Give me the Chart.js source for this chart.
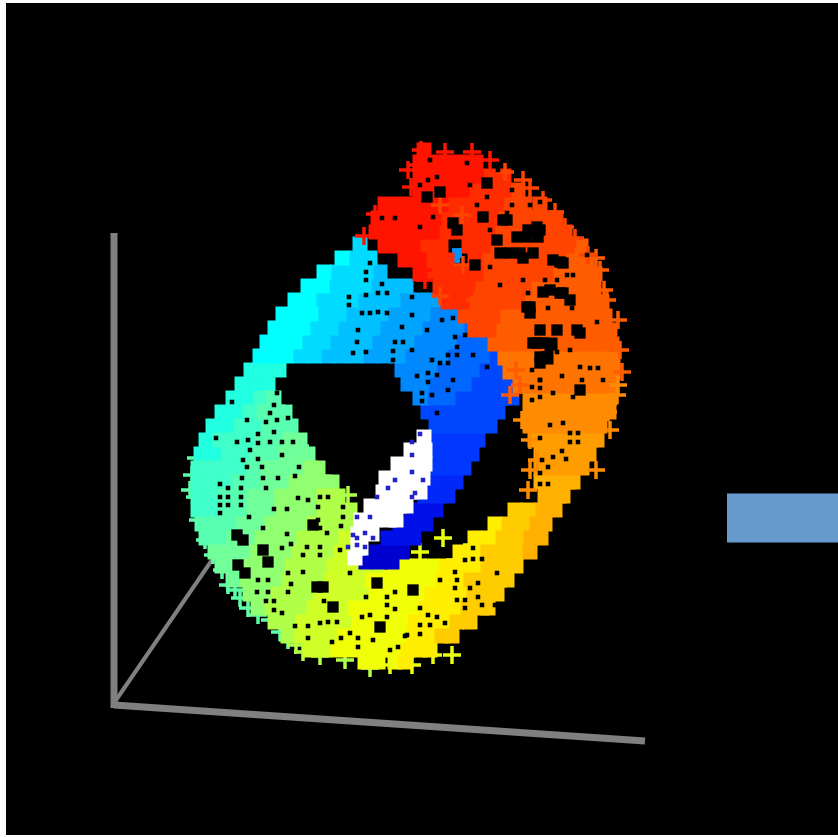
<!DOCTYPE html>
<html>
<head>
<meta charset="utf-8">
<script src="https://cdn.jsdelivr.net/npm/chart.js@4"></script>
<style>
  html, body { margin: 0; background: #fff; overflow: hidden; }
  #wrap { position: absolute; left: 6px; top: 3px; width: 832px; height: 832px; background: #000; }
</style>
</head>
<body>
<div id="wrap"><canvas id="roll"></canvas></div>
<script>
// axes of the 3d box and the blue arrow stub, in picture units
const axisUp = [[114,233],[114,708]];
const axisDepth = [[114,703],[212,560]];
const axisRight = [[114,705],[645,741]];
const arrowStub = [[727,518],[838,518]];

// outer face, red round to cyan
const red = [[424,150],[420,162],[434,162],[448,162],[462,162],[476,162],[420,176],[434,176],[448,176],[462,176],[476,176],[420,190],[434,190],[448,190],[462,190],[385,204],[399,204],[413,204],[427,204],[441,204],[378,218],[392,218],[406,218],[420,218],[434,218],[376,232],[390,232],[404,232],[418,232],[432,232],[385,246],[399,246],[413,246],[405,260],[419,260],[420,274]];
const redOrange = [[490,176],[504,176],[476,190],[490,190],[504,190],[455,204],[469,204],[483,204],[497,204],[448,218],[462,218],[476,218],[490,218],[446,232],[460,232],[474,232],[488,232],[427,246],[441,246],[469,246],[483,246],[433,260],[447,260],[475,260],[434,274],[448,274],[462,274],[476,274],[440,288],[454,288],[468,288],[448,302],[462,302]];
const orangeRed = [[518,190],[511,204],[525,204],[540,204],[504,218],[518,218],[532,218],[546,218],[556,218],[502,232],[516,232],[530,232],[544,232],[558,232],[565,232],[497,246],[511,246],[525,246],[539,246],[553,246],[567,246],[489,260],[503,260],[517,260],[531,260],[545,260],[559,260],[490,274],[504,274],[518,274],[532,274],[546,274],[482,288],[496,288],[510,288],[524,288],[476,302],[490,302],[504,302],[518,302],[465,316],[479,316],[493,316],[475,330],[489,330]];
const orange1 = [[581,246],[573,260],[587,260],[560,274],[574,274],[588,274],[595,274],[538,288],[552,288],[566,288],[580,288],[594,288],[532,302],[546,302],[560,302],[574,302],[588,302],[602,302],[507,316],[521,316],[535,316],[549,316],[563,316],[577,316],[591,316],[605,316],[503,330],[517,330],[531,330],[545,330],[559,330],[573,330],[587,330],[601,330],[610,330],[495,344],[509,344],[523,344],[537,344],[565,344],[579,344],[593,344],[607,344],[612,344]];
const orange2 = [[505,358],[519,358],[533,358],[561,358],[575,358],[589,358],[603,358],[613,358],[510,372],[524,372],[538,372],[552,372],[566,372],[580,372],[594,372],[608,372],[613,372],[520,386],[534,386],[548,386],[562,386],[576,386],[590,386],[604,386],[611,386]];
const orange3 = [[530,398],[544,398],[558,398],[572,398],[586,398],[600,398],[610,398],[530,412],[544,412],[558,412],[572,412],[586,412],[600,412],[609,412],[530,426],[544,426],[558,426],[572,426],[586,426],[600,426]];
const orange4 = [[535,440],[549,440],[563,440],[577,440],[591,440],[597,440],[541,454],[555,454],[569,454],[583,454],[589,454],[541,468],[555,468],[569,468],[582,468]];
const amber = [[541,482],[555,482],[568,482],[573,482],[545,496],[559,496],[563,496],[543,510],[555,510],[531,538],[541,538],[537,524],[545,524],[530,552]];
const gold = [[515,510],[529,510],[509,524],[523,524],[503,538],[517,538],[488,552],[502,552],[516,552],[488,566],[502,566],[516,566],[471,580],[485,580],[499,580],[507,580],[474,594],[488,594],[497,594],[468,608],[482,608],[488,608],[457,622],[470,622],[442,636],[452,636]];
const yellow = [[495,524],[475,538],[489,538],[460,552],[474,552],[446,566],[460,566],[474,566],[443,580],[457,580],[432,594],[446,594],[460,594],[426,608],[440,608],[454,608],[415,622],[429,622],[443,622],[414,636],[428,636],[408,650],[420,650],[430,650],[405,662]];
const yellowGreen = [[390,566],[404,566],[418,566],[432,566],[373,580],[387,580],[401,580],[415,580],[429,580],[376,594],[390,594],[404,594],[418,594],[356,608],[370,608],[384,608],[398,608],[412,608],[359,622],[373,622],[387,622],[401,622],[344,636],[358,636],[372,636],[386,636],[400,636],[338,650],[352,650],[366,650],[380,650],[394,650],[365,662],[378,662],[395,662]];
const lime = [[346,538],[341,552],[352,552],[334,566],[348,566],[362,566],[376,566],[331,580],[345,580],[359,580],[320,594],[334,594],[348,594],[362,594],[314,608],[328,608],[342,608],[303,622],[317,622],[331,622],[345,622],[302,636],[316,636],[330,636],[310,650],[324,650]];
const grassGreen = [[324,496],[338,496],[324,510],[338,510],[350,510],[314,524],[328,524],[342,524],[350,524],[304,538],[318,538],[332,538],[299,552],[313,552],[327,552],[292,566],[306,566],[320,566],[289,580],[303,580],[317,580],[278,594],[292,594],[306,594],[272,608],[286,608],[300,608],[275,622],[289,622],[288,636]];
const green1 = [[310,468],[318,468],[296,482],[310,482],[324,482],[332,482],[282,496],[296,496],[310,496],[282,510],[296,510],[310,510],[272,524],[286,524],[300,524],[262,538],[276,538],[290,538],[257,552],[271,552],[285,552],[250,566],[264,566],[278,566],[247,580],[261,580],[275,580],[250,594],[264,594],[258,608]];
const green2 = [[290,440],[300,440],[285,454],[299,454],[308,454],[268,468],[282,468],[296,468],[268,482],[282,482],[254,496],[268,496],[254,510],[268,510],[244,524],[258,524],[234,538],[248,538],[215,552],[229,552],[243,552],[222,566],[236,566],[233,580]];
const green3 = [[264,412],[278,412],[285,412],[274,398],[269,426],[283,426],[291,426],[262,440],[276,440],[257,454],[271,454],[254,468],[240,482],[254,482],[226,496],[240,496],[226,510],[240,510],[202,524],[216,524],[230,524],[206,538],[220,538]];
const aqua = [[250,412],[261,398],[241,426],[255,426],[220,440],[234,440],[248,440],[229,454],[243,454],[198,468],[212,468],[226,468],[240,468],[198,482],[212,482],[226,482],[198,496],[212,496],[198,510],[212,510]];
const teal = [[251,370],[265,370],[279,370],[242,384],[256,384],[268,384],[233,398],[247,398],[222,412],[236,412],[213,426],[227,426],[206,440],[201,454],[215,454]];

// inner face, cyan round to navy, and the white end
const cyan = [[342,258],[324,272],[308,286],[322,286],[295,300],[309,300],[283,314],[297,314],[311,314],[275,328],[289,328],[303,328],[267,342],[281,342],[295,342],[260,356],[274,356],[286,356]];
const blue1 = [[360,244],[356,258],[370,258],[338,272],[352,272],[366,272],[336,286],[350,286],[364,286],[323,300],[337,300],[351,300],[325,314],[339,314],[317,328],[331,328],[309,342],[323,342],[300,356],[314,356]];
const blue2 = [[380,272],[378,286],[392,286],[406,286],[365,300],[379,300],[393,300],[353,314],[367,314],[381,314],[345,328],[359,328],[373,328],[337,342],[351,342],[365,342],[328,356],[342,356],[356,356]];
const blue3 = [[407,300],[421,300],[435,300],[395,314],[409,314],[423,314],[387,328],[401,328],[415,328],[379,342],[393,342],[407,342],[370,356],[384,356],[398,356]];
const blue4 = [[437,314],[451,314],[429,328],[443,328],[457,328],[421,342],[435,342],[449,342],[412,356],[426,356],[440,356],[402,370],[416,370],[430,370],[408,384],[422,384],[420,398]];
const blue5 = [[471,328],[463,342],[477,342],[491,342],[454,356],[468,356],[482,356],[444,370],[458,370],[472,370],[436,384],[450,384],[464,384],[434,398],[448,398]];
const blue6 = [[505,342],[496,356],[510,356],[486,370],[500,370],[512,370],[478,384],[492,384],[506,384],[462,398],[476,398],[490,398],[504,398],[512,398],[428,412],[442,412],[456,412],[470,412],[484,412],[498,412],[436,426],[450,426],[464,426],[478,426],[490,426]];
const blue7 = [[436,440],[450,440],[464,440],[478,440],[436,454],[450,454],[464,454],[472,454],[428,468],[442,468],[456,468],[464,468]];
const blue8 = [[428,482],[436,482],[448,482],[456,482],[425,496],[438,496],[448,496]];
const navy1 = [[412,510],[425,510],[436,510],[400,524],[414,524],[426,524],[388,538],[402,538],[414,538]];
const navy2 = [[376,552],[390,552],[402,552],[366,562],[380,562],[392,562]];
const whiteEnd = [[424,437],[411,450],[425,450],[398,464],[412,464],[425,464],[386,478],[400,478],[414,478],[423,478],[383,492],[397,492],[411,492],[420,492],[371,506],[385,506],[399,506],[406,506],[361,520],[375,520],[389,520],[396,520],[358,534],[372,534],[358,548],[361,548],[355,558]];

// loose crosses that break the outline
const plusRed = [[421,150],[416,165],[445,152],[472,152],[411,187],[375,214],[396,207],[364,236],[424,185],[388,225],[425,280],[423,270],[490,160],[408,170]];
const plusOrangeRed = [[523,180],[543,200],[565,227],[588,255],[462,215],[440,205],[463,265],[440,296],[475,300],[505,172],[530,188],[555,212],[575,238]];
const plusOrange = [[610,325],[620,350],[604,290],[516,370],[520,385],[510,395],[607,300],[618,320],[622,372],[600,270],[596,258]];
const plusAmber = [[617,395],[610,430],[596,470],[618,385],[608,412],[522,420],[530,440],[537,460],[530,470],[528,490]];
const plusYellow = [[443,538],[420,552],[430,575],[455,560],[472,545],[452,655],[433,655],[412,665],[390,665]];
const plusLime = [[323,478],[348,495],[353,523],[370,668],[345,660],[320,656],[303,652],[296,645],[312,470]];
const plusGreen = [[300,446],[196,458],[192,475],[195,497],[198,520],[205,540],[213,555],[222,570],[235,590],[248,608],[270,620],[288,640],[210,530],[228,585],[240,598],[258,615],[280,632],[190,490]];

// blue showing through the red part
const blueThrough = [[457,253],[455,258],[483,290],[490,297],[477,312],[510,323],[392,232],[417,248],[425,245]];

// black holes in the cloud, large and small
const gapsLarge = [[453,223],[457,230],[528,230],[510,253],[523,258],[540,230],[530,307],[537,343],[543,343],[540,357],[560,293],[557,330],[580,333],[507,220],[487,183],[427,197],[440,192],[543,292],[520,253],[560,262],[517,237],[538,237],[500,253],[475,265],[313,525],[237,535],[243,540],[263,550],[268,562],[238,565],[245,573],[317,587],[323,587],[333,607],[380,627],[377,583],[413,590],[580,390],
  [533,253],[553,260],[563,263],[537,227],[527,237],[497,240],[483,217],[503,220],[550,290],[563,293],[570,300],[527,307],[530,313],[540,330],[577,330],[533,343],[547,357],[540,363]];
const gapsSmall = [[430,160],[467,163],[428,180],[437,177],[420,185],[470,185],[487,197],[477,205],[498,170],[512,190],[540,202],[512,205],[530,205],[382,218],[395,218],[482,215],[507,213],[420,227],[433,217],[490,230],[498,238],[475,267],[490,267],[500,285],[523,280],[545,280],[557,280],[567,275],[573,275],[528,293],[587,255],[548,308],[597,322],[572,308],[557,352],[570,350],[580,367],[590,368],[598,368],[532,370],[540,380],[603,380],
  [370,263],[366,272],[366,280],[382,284],[366,295],[378,293],[387,293],[412,297],[349,297],[349,305],[362,313],[370,313],[378,312],[387,313],[412,315],[442,320],[453,318],[402,327],[427,330],[358,330],[455,337],[465,335],[395,342],[403,342],[357,342],[412,350],[393,351],[353,353],[366,352],[457,347],[457,355],[448,355],[393,360],[432,360],[440,363],[448,363],[473,355],[428,373],[487,367],[417,376],[437,375],[453,380],[428,382],[437,413],[422,393],[422,401],[432,395],[448,390],
  [232,402],[277,393],[288,402],[274,405],[270,413],[247,420],[266,422],[277,420],[288,418],[216,438],[258,434],[274,432],[237,442],[248,440],[258,443],[270,442],[282,442],[293,442],[250,450],[282,455],[243,460],[258,459],[247,467],[262,467],[299,467],[278,478],[295,476],[242,478],[263,478],
  [220,484],[228,488],[241,488],[220,497],[228,497],[241,497],[220,505],[228,505],[241,505],[220,513],[274,509],[287,509],[249,517],[266,488],[298,498],[308,500],[320,497],[328,497],[318,507],[343,507],[343,517],[318,520],[320,528],[327,533],[263,528],[287,534],[282,548],[291,544],[307,547],[320,547],[303,555],[320,555],[340,550],[341,526],[350,573],[288,573],[303,572],[258,580],[268,580],[291,584],[257,592],[268,592],[288,592],[266,601],[274,601],[274,610],[282,613],[324,601],[295,626],[308,626],[320,623],[328,622],[337,622],[308,638],[332,642],[341,638],[350,633],[358,638],[358,647],[373,640],[362,617],[370,615],[366,597],[387,597],[395,592],[387,605],[395,609],[387,617],[420,608],[428,615],[437,617],[420,625],[430,625],[420,634],[407,635],[398,647],[390,650],
  [440,580],[455,572],[457,580],[455,588],[473,548],[465,560],[473,559],[482,559],[497,573],[478,583],[470,588],[478,597],[457,600],[465,600],[465,608],[482,605],[495,605],[445,623],[405,636],
  [540,380],[532,387],[540,388],[553,393],[540,397],[532,400],[562,376],[582,380],[573,397],[550,425],[563,423],[570,433],[578,433],[570,442],[578,442],[540,438],[562,451],[553,457],[542,460],[566,459],[548,467],[540,473],[540,484],[548,484]];

// specks in the white end
const whiteSpecks = [[420,434],[412,442],[412,455],[412,472],[395,480],[423,480],[388,488],[415,493],[412,497],[377,497],[370,517],[357,517],[365,533],[373,538],[353,535],[357,538],[348,547],[365,547],[357,545]];

const toXY = pts => pts.map(p => ({ x: p[0], y: p[1] }));

function solid(pts, colour) {
  return { type: 'scatter', data: toXY(pts), pointStyle: 'rect', pointRadius: 10.6, pointBorderWidth: 0, pointBackgroundColor: colour };
}
function plus(pts, colour) {
  return { type: 'scatter', data: toXY(pts), pointStyle: 'cross', pointRadius: 9, pointBorderWidth: 3.5, pointBorderColor: colour };
}
function speck(pts, colour, r) {
  return { type: 'scatter', data: toXY(pts), pointStyle: 'rect', pointRadius: r, pointBorderWidth: 0, pointBackgroundColor: colour };
}
function bar(pts, colour, w) {
  return { type: 'line', data: toXY(pts), borderColor: colour, borderWidth: w, pointRadius: 0, borderCapStyle: 'butt' };
}

// listed back to front
const layers = [
  bar(axisUp, '#808080', 7),
  bar(axisDepth, '#808080', 4),
  bar(axisRight, '#808080', 7),
  bar(arrowStub, '#6699cc', 49),
  plus(plusGreen, '#5cffa8'), plus(plusLime, '#b0ff48'), plus(plusYellow, '#e8ff10'),
  solid(teal, '#20ffe0'), solid(aqua, '#40ffc8'), solid(green3, '#58ffb0'), solid(green2, '#70ff98'),
  solid(green1, '#90ff70'), solid(grassGreen, '#b0ff48'), solid(lime, '#d0ff28'), solid(yellowGreen, '#f0ff08'),
  solid(yellow, '#ffee00'), solid(gold, '#ffcc00'), solid(amber, '#ffb000'),
  solid(navy2, '#0000d0'), solid(navy1, '#0010e8'), solid(blue8, '#0028f8'), solid(blue7, '#0038ff'),
  solid(blue6, '#0048ff'), solid(blue5, '#0068ff'), solid(blue4, '#0088ff'), solid(blue3, '#00a4ff'),
  solid(blue2, '#00c0ff'), solid(blue1, '#00dcff'), solid(cyan, '#00ffff'),
  solid(whiteEnd, '#ffffff'),
  speck(blueThrough, '#0090ff', 7),
  solid(orange4, '#ff9c00'), solid(orange3, '#ff8c00'), solid(orange2, '#ff7400'), solid(orange1, '#ff5c00'),
  solid(orangeRed, '#ff4400'), solid(redOrange, '#ff2c00'), solid(red, '#ff1400'),
  plus(plusAmber, '#ff8c00'), plus(plusOrange, '#ff5c00'), plus(plusOrangeRed, '#ff4400'), plus(plusRed, '#ff1400'),
  speck(gapsLarge, '#000000', 8),
  speck(gapsSmall, '#000000', 3.2),
  speck(whiteSpecks, '#2222cc', 3.2)
];
layers.forEach((d, i) => { d.order = layers.length - i; });

new Chart(document.getElementById('roll'), {
  data: { datasets: layers },
  options: {
    responsive: true,
    maintainAspectRatio: false,
    animation: false,
    layout: { padding: 0, autoPadding: false },
    plugins: { legend: { display: false }, tooltip: { enabled: false } },
    scales: {
      x: { type: 'linear', min: 6, max: 838, display: false },
      y: { type: 'linear', min: 3, max: 835, reverse: true, display: false }
    }
  }
});
</script>
</body>
</html>
